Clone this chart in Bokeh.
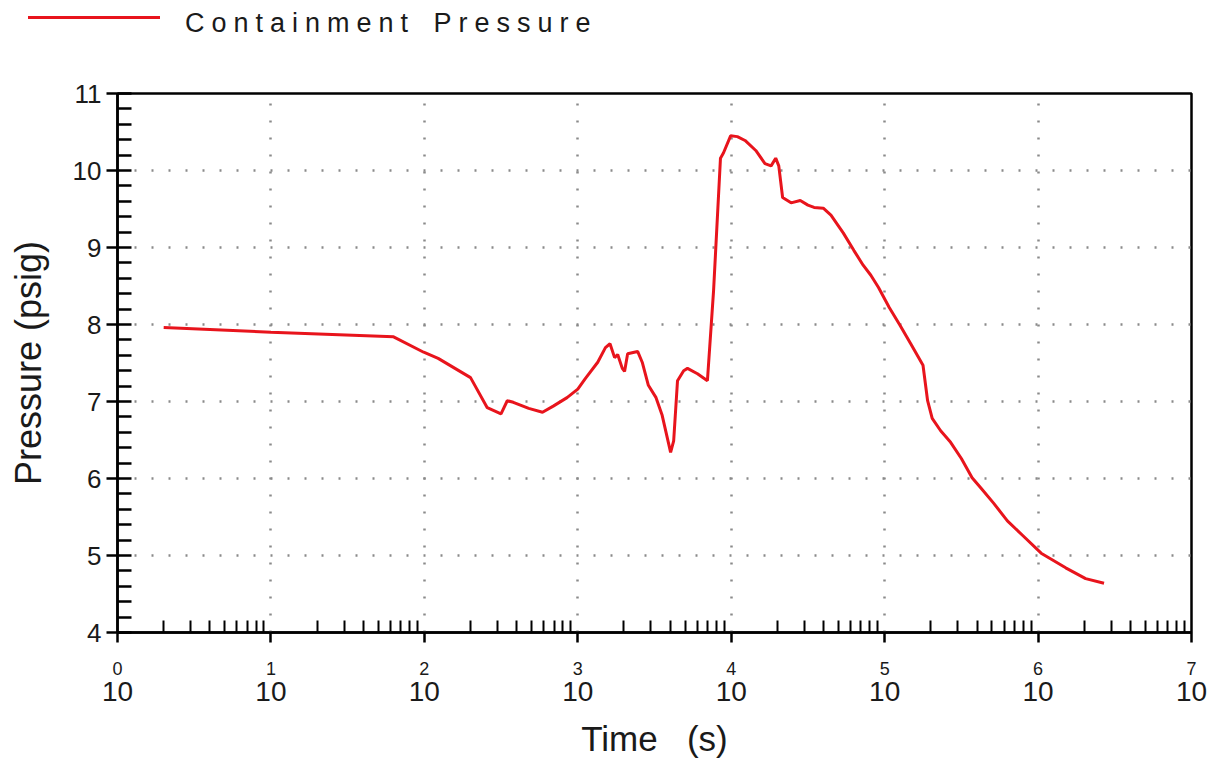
from bokeh.plotting import figure
from bokeh.layouts import column
from bokeh.models import (LogAxis, FixedTicker, CustomJSTickFormatter, Range1d, Div)
from bokeh.embed import file_html
from bokeh.resources import INLINE

# ---- data ----
time_s = [2.0, 10, 63, 99, 123, 200, 257, 316, 347, 380, 479, 589, 692, 851, 1000, 1122,
          1349, 1514, 1622, 1738, 1820, 1950, 2018, 2113, 2455, 2630, 2884, 3236, 3548,
          4027, 4217, 4467, 4898, 5188, 6026, 6998, 7674, 8511, 8913, 9908, 10965, 12303,
          14454, 16596, 18197, 19498, 20417, 21627, 24547, 28184, 31623, 34674, 39811,
          44668, 53703, 63096, 72444, 81283, 91201, 107152, 125893, 147911, 177828,
          190546, 204174, 231739, 269153, 316228, 371535, 426580, 512861, 630957,
          794328, 1047129, 1513561, 2041738, 2691535]
pressure_psig = [7.96, 7.90, 7.84, 7.64, 7.56, 7.31, 6.92, 6.84, 7.01, 6.99, 6.91, 6.86, 6.94,
                 7.05, 7.16, 7.30, 7.51, 7.70, 7.75, 7.57, 7.61, 7.43, 7.39, 7.62, 7.65, 7.51,
                 7.21, 7.05, 6.82, 6.34, 6.49, 7.27, 7.40, 7.43, 7.36, 7.27, 8.44, 10.16,
                 10.23, 10.45, 10.44, 10.39, 10.26, 10.09, 10.06, 10.16, 10.06, 9.65, 9.58,
                 9.61, 9.55, 9.52, 9.51, 9.42, 9.19, 8.96, 8.77, 8.64, 8.48, 8.22, 7.99, 7.75,
                 7.47, 7.01, 6.78, 6.62, 6.47, 6.26, 6.01, 5.87, 5.68, 5.45, 5.26, 5.03, 4.84,
                 4.70, 4.64]
x_major = [1, 10, 100, 1000, 10000, 100000, 1000000, 10000000]
x_minor = [m * d for d in [1, 10, 100, 1000, 10000, 100000, 1000000] for m in range(2, 10)]
y_major = [4, 5, 6, 7, 8, 9, 10, 11]
y_minor = [round(4 + 0.2 * i, 1) for i in range(36)]
series_label = "Containment Pressure"
x_title = "Time\u00a0\u00a0\u00a0(s)"
y_title = "Pressure (psig)"

FONT = "'Liberation Sans', Arial, sans-serif"
RED = "#e8141c"
INK = "#1a1a1a"

# ---- legend strip on top (HTML, letter-spaced label) ----
legend_html = (
    '<div style="position:relative;width:1207px;height:40px;">'
    f'<div style="position:absolute;left:28px;top:16px;width:132px;height:3px;background:{RED};"></div>'
    f'<span style="position:absolute;left:185px;top:9px;font-family:{FONT};font-size:27px;'
    f'line-height:28px;letter-spacing:7px;word-spacing:4px;color:{INK};white-space:nowrap;">'
    f'{series_label}</span></div>'
)
legend_div = Div(text=legend_html, width=1207, height=40, margin=0)

# ---- main chart ----
p = figure(width=1207, height=723, x_axis_type="log",
           x_range=Range1d(1, 1e7), y_range=Range1d(4, 11),
           output_backend="svg", toolbar_location=None,
           min_border_left=117, min_border_right=16, min_border_top=53, min_border_bottom=131)
p.background_fill_color = "white"
p.border_fill_color = "white"
p.outline_line_color = "black"
p.outline_line_width = 2.5
p.outline_line_alpha = 1

xt = FixedTicker(ticks=x_major, minor_ticks=x_minor)
yt = FixedTicker(ticks=y_major, minor_ticks=y_minor)

# exponent axis (inner)
ax = p.xaxis[0]
ax.ticker = xt
ax.formatter = CustomJSTickFormatter(code="return Math.round(Math.log10(tick)).toString();")
ax.axis_line_width = 2.5
ax.axis_line_color = "black"
ax.major_tick_in = 0
ax.major_tick_out = 10
ax.major_tick_line_width = 2.5
ax.minor_tick_in = 12
ax.minor_tick_out = 0
ax.minor_tick_line_width = 2
ax.major_label_text_font = FONT
ax.major_label_text_font_size = "18px"
ax.major_label_text_align = "left"
ax.major_label_standoff = 19
ax.major_label_text_color = INK

# "10" axis (outer)
ax2 = LogAxis(ticker=xt, formatter=CustomJSTickFormatter(code="return '10';"))
ax2.axis_line_color = None
ax2.major_tick_line_color = None
ax2.minor_tick_line_color = None
ax2.major_label_text_font = FONT
ax2.major_label_text_font_size = "28px"
ax2.major_label_standoff = -2
ax2.major_label_text_color = INK
ax2.axis_label = x_title
ax2.axis_label_text_font = FONT
ax2.axis_label_text_font_size = "35px"
ax2.axis_label_text_font_style = "normal"
ax2.axis_label_standoff = 15
ax2.axis_label_text_color = INK
p.add_layout(ax2, "below")

ay = p.yaxis[0]
ay.ticker = yt
ay.axis_line_width = 2.5
ay.axis_line_color = "black"
ay.major_tick_in = 0
ay.major_tick_out = 11
ay.major_tick_line_width = 2.5
ay.minor_tick_in = 14
ay.minor_tick_out = 0
ay.minor_tick_line_width = 2.5
ay.major_label_text_font = FONT
ay.major_label_text_font_size = "26px"
ay.major_label_standoff = 5
ay.major_label_text_color = INK
ay.axis_label = y_title
ay.axis_label_text_font = FONT
ay.axis_label_text_font_size = "36px"
ay.axis_label_text_font_style = "normal"
ay.axis_label_standoff = 21
ay.axis_label_text_color = INK

p.xgrid.ticker = xt
p.ygrid.ticker = yt
for g in (p.xgrid, p.ygrid):
    g.grid_line_color = "#8a8a8a"
    g.grid_line_dash = "2 15"
    g.grid_line_width = 2.5

p.line(time_s, pressure_psig, line_color=RED, line_width=3)

layout = column(legend_div, p, spacing=0)
open("out.html", "w").write(file_html(layout, INLINE))
